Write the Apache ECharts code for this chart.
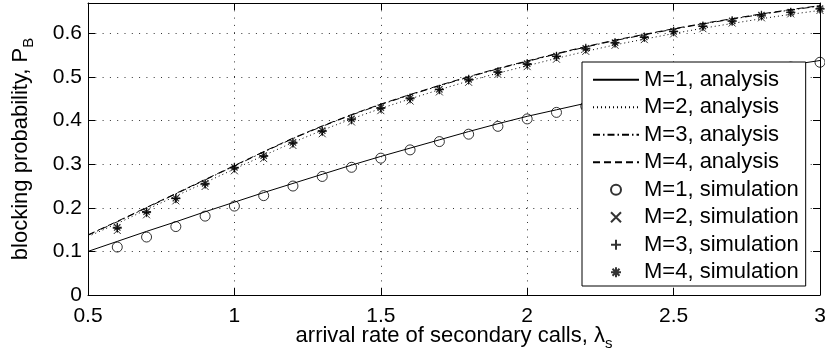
<!DOCTYPE html>
<html><head><meta charset="utf-8">
<script src="https://cdn.jsdelivr.net/npm/echarts@6/dist/echarts.min.js"></script>
<style>html,body{margin:0;padding:0;background:#fff}#c{width:825px;height:360px}</style>
</head><body><div id="c"></div>
<script>
const xAnalysis = [0.5,0.6,0.7,0.8,0.9,1.0,1.1,1.2,1.3,1.4,1.5,1.6,1.7,1.8,1.9,2.0,2.1,2.2,2.3,2.4,2.5,2.6,2.7,2.8,2.9,3.0];
const xSim = [0.6,0.7,0.8,0.9,1.0,1.1,1.2,1.3,1.4,1.5,1.6,1.7,1.8,1.9,2.0,2.1,2.2,2.3,2.4,2.5,2.6,2.7,2.8,2.9,3.0];

const analysisM1 = [0.100,0.123,0.146,0.168,0.191,0.213,0.235,0.256,0.277,0.298,0.318,0.337,0.356,0.375,0.393,0.410,0.425,0.440,0.454,0.468,0.481,0.494,0.506,0.517,0.528,0.538];
const analysisM2 = [0.134,0.164,0.196,0.227,0.258,0.289,0.320,0.350,0.378,0.404,0.428,0.450,0.471,0.491,0.509,0.526,0.543,0.559,0.574,0.587,0.600,0.612,0.623,0.634,0.644,0.653];
const analysisM3 = [0.137,0.168,0.200,0.232,0.264,0.296,0.328,0.359,0.387,0.413,0.437,0.459,0.480,0.500,0.519,0.536,0.553,0.569,0.584,0.597,0.610,0.622,0.633,0.644,0.654,0.663];
const analysisM4 = [0.138,0.169,0.201,0.233,0.265,0.297,0.329,0.360,0.388,0.414,0.438,0.460,0.481,0.501,0.520,0.537,0.554,0.570,0.585,0.598,0.611,0.623,0.634,0.645,0.655,0.664];

const simM1 = [0.110,0.133,0.157,0.181,0.204,0.228,0.250,0.272,0.293,0.314,0.333,0.352,0.369,0.387,0.404,0.419,0.433,0.447,0.461,0.474,0.487,0.499,0.511,0.523,0.534];
const simM2 = [0.148,0.184,0.216,0.249,0.285,0.313,0.343,0.370,0.397,0.423,0.445,0.466,0.488,0.506,0.524,0.541,0.559,0.573,0.586,0.599,0.611,0.624,0.636,0.645,0.653];
const simM3 = [0.153,0.189,0.221,0.254,0.291,0.318,0.348,0.375,0.402,0.428,0.450,0.471,0.493,0.511,0.529,0.547,0.564,0.578,0.591,0.604,0.616,0.628,0.640,0.648,0.656];
const simM4 = [0.155,0.191,0.222,0.256,0.293,0.320,0.350,0.377,0.404,0.430,0.452,0.472,0.495,0.512,0.531,0.548,0.566,0.579,0.592,0.605,0.617,0.629,0.642,0.649,0.657];

const analysisNames = ['M=1, analysis','M=2, analysis','M=3, analysis','M=4, analysis'];
const simNames = ['M=1, simulation','M=2, simulation','M=3, simulation','M=4, simulation'];

const FONT = 'Liberation Sans, Arial, Helvetica, sans-serif';
const pair = (xs, ys) => xs.map((x, i) => [x, ys[i]]);

function analysis(name, ys, type) {
  return { name, type: 'line', data: pair(xAnalysis, ys), symbol: 'none', showSymbol: false,
    lineStyle: { color: '#000', width: 1, type }, itemStyle: { color: '#000' }, z: 2, silent: true };
}
function sim(name, ys, symbol, size, bw) {
  return { name, type: 'scatter', data: pair(xSim, ys), symbol, symbolSize: size,
    itemStyle: { color: 'rgba(0,0,0,0)', borderColor: '#000', borderWidth: bw }, z: 3, silent: true };
}

const chart = echarts.init(document.getElementById('c'), null, { renderer: 'canvas' });
const axisLbl = { color: '#000', fontSize: 21, fontFamily: FONT };
const grid = { show: true, lineStyle: { color: '#333', width: 1, type: [1, 6.3] } };
const nameStyle = { color: '#000', fontFamily: FONT, fontSize: 22, lineHeight: 30,
  rich: { n: { fontSize: 22, fontFamily: FONT, color: '#000', lineHeight: 30 },
          s: { fontSize: 15, fontFamily: FONT, color: '#000', lineHeight: 15, verticalAlign: 'bottom' } } };
const frameTick = { show: true, inside: true, length: 7, lineStyle: { color: '#000' } };
const frameLine = { show: true, onZero: false, lineStyle: { color: '#000', width: 1 } };
chart.setOption({
  animation: false,
  backgroundColor: '#fff',
  textStyle: { fontFamily: FONT, color: '#000' },
  grid: { left: 88, right: 5, top: 3, bottom: 65, containLabel: false, outerBoundsMode: 'none' },
  xAxis: [{
    type: 'value', min: 0.5, max: 3, interval: 0.5, position: 'bottom',
    axisLine: frameLine, axisTick: frameTick,
    axisLabel: Object.assign({ margin: 11 }, axisLbl),
    splitLine: grid,
    name: '{n|arrival rate of secondary calls, λ}{s|s}', nameLocation: 'middle', nameGap: 26,
    nameMoveOverlap: false,
    nameTextStyle: nameStyle
  }, {
    type: 'value', min: 0.5, max: 3, interval: 0.5, position: 'top',
    axisLine: frameLine, axisTick: frameTick, axisLabel: { show: false }, splitLine: { show: false }
  }],
  yAxis: [{
    type: 'value', min: 0, max: 0.67, interval: 0.1, position: 'left',
    axisLine: frameLine, axisTick: frameTick,
    axisLabel: Object.assign({ margin: 6, showMaxLabel: false }, axisLbl),
    splitLine: grid,
    name: '{n|blocking probability, P}{s|B}', nameLocation: 'middle', nameRotate: 90, nameGap: 52,
    nameMoveOverlap: false,
    nameTextStyle: nameStyle
  }, {
    type: 'value', min: 0, max: 0.67, interval: 0.1, position: 'right',
    axisLine: frameLine, axisTick: frameTick, axisLabel: { show: false }, splitLine: { show: false }
  }],
  legend: {
    orient: 'vertical', left: 582, top: 62,
    padding: [4, 7, 0, 10], itemGap: 0, itemWidth: 46, itemHeight: 10,
    backgroundColor: '#fff', borderColor: '#000', borderWidth: 1,
    textStyle: { fontSize: 22, fontFamily: FONT, color: '#000', lineHeight: 27.5 },
    selectedMode: false,
    data: analysisNames.map(n => ({ name: n, itemStyle: { opacity: 0 } })).concat(simNames.map(n => ({ name: n })))
  },
  series: [
    analysis(analysisNames[0], analysisM1, 'solid'),
    analysis(analysisNames[1], analysisM2, [1, 3]),
    analysis(analysisNames[2], analysisM3, [7, 3, 1.5, 3]),
    analysis(analysisNames[3], analysisM4, [7, 4]),
    sim(simNames[0], simM1, 'circle', 10, 1),
    sim(simNames[1], simM2, 'path://M0 0L10 10M10 0L0 10', 7, 1),
    sim(simNames[2], simM3, 'path://M5 0L5 10M0 5L10 5', 9, 1),
    sim(simNames[3], simM4, 'path://M5 0L5 10M0 5L10 5M1.5 1.5L8.5 8.5M8.5 1.5L1.5 8.5', 9, 1.3)
  ]
});
</script></body></html>
